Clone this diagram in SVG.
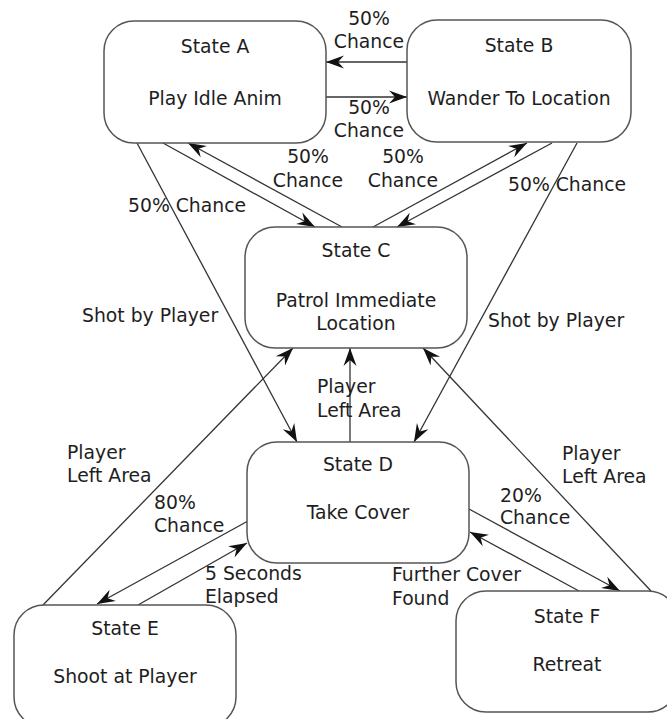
<svg xmlns="http://www.w3.org/2000/svg" width="667" height="719" viewBox="0 0 667 719">
  <style>
    .box { fill: #ffffff; stroke: #555555; stroke-width: 1.5; }
    .edge { fill: none; stroke: #333333; stroke-width: 1.3; marker-end: url(#arrow); }
    text { font-family: "DejaVu Sans", "Liberation Sans", sans-serif; font-size: 18.8px; fill: #1e1e1e; }
    .c { text-anchor: middle; }
  </style>
  <defs>
    <marker id="arrow" markerUnits="userSpaceOnUse" markerWidth="22" markerHeight="16" viewBox="-19 -8 20 16" refX="0" refY="0" orient="auto">
      <path d="M0,0 L-18,-6.5 L-12,0 L-18,6.5 Z" fill="#111111"/>
    </marker>
  </defs>
  <rect width="667" height="719" fill="#ffffff"/>

  <!-- transitions -->
  <g id="connectors">
    <line class="edge" x1="407" y1="62" x2="326" y2="62"/>
    <line class="edge" x1="326" y1="97" x2="407" y2="97"/>
    <line class="edge" x1="163" y1="143" x2="315" y2="227"/>
    <line class="edge" x1="342" y1="227" x2="188" y2="143"/>
    <line class="edge" x1="373" y1="227" x2="527" y2="143"/>
    <line class="edge" x1="552" y1="143" x2="397" y2="227"/>
    <line class="edge" x1="137" y1="143" x2="297" y2="442"/>
    <line class="edge" x1="577" y1="143" x2="414" y2="442"/>
    <line class="edge" x1="350" y1="442" x2="350" y2="348"/>
    <line class="edge" x1="43" y1="605" x2="293" y2="348"/>
    <line class="edge" x1="651" y1="591" x2="423" y2="348"/>
    <line class="edge" x1="248" y1="521" x2="97" y2="604"/>
    <line class="edge" x1="138" y1="605" x2="247" y2="543"/>
    <line class="edge" x1="469" y1="509" x2="620" y2="591"/>
    <line class="edge" x1="579" y1="591" x2="470" y2="532"/>
  </g>

  <!-- transition labels -->
  <g id="labels">
    <text class="c" x="369" y="25">50%</text>
    <text class="c" x="369" y="48">Chance</text>
    <text class="c" x="369" y="114">50%</text>
    <text class="c" x="369" y="137">Chance</text>
    <text class="c" x="308" y="163">50%</text>
    <text class="c" x="308" y="187">Chance</text>
    <text class="c" x="403" y="163">50%</text>
    <text class="c" x="403" y="187">Chance</text>
    <text x="128" y="212">50% Chance</text>
    <text x="508" y="191">50% Chance</text>
    <text x="82" y="322">Shot by Player</text>
    <text x="488" y="327">Shot by Player</text>
    <text x="317" y="393">Player</text>
    <text x="317" y="417">Left Area</text>
    <text x="67" y="459">Player</text>
    <text x="67" y="482">Left Area</text>
    <text x="562" y="460">Player</text>
    <text x="562" y="483">Left Area</text>
    <text x="154" y="509">80%</text>
    <text x="154" y="532">Chance</text>
    <text x="205" y="580">5 Seconds</text>
    <text x="205" y="603">Elapsed</text>
    <text x="500" y="502">20%</text>
    <text x="500" y="524">Chance</text>
    <text x="392" y="581">Further Cover</text>
    <text x="392" y="605">Found</text>
  </g>

  <!-- states -->
  <g id="stateA">
    <rect class="box" x="104" y="21" width="222" height="122" rx="30" ry="30"/>
    <text class="c" x="215" y="53">State A</text>
    <text class="c" x="215" y="105">Play Idle Anim</text>
  </g>
  <g id="stateB">
    <rect class="box" x="407" y="20" width="224" height="122" rx="30" ry="30"/>
    <text class="c" x="519" y="52">State B</text>
    <text class="c" x="519" y="105">Wander To Location</text>
  </g>
  <g id="stateC">
    <rect class="box" x="245" y="227" width="222" height="121" rx="30" ry="30"/>
    <text class="c" x="356" y="257">State C</text>
    <text class="c" x="356" y="307">Patrol Immediate</text>
    <text class="c" x="356" y="330">Location</text>
  </g>
  <g id="stateD">
    <rect class="box" x="247" y="442" width="222" height="121" rx="30" ry="30"/>
    <text class="c" x="358" y="471">State D</text>
    <text class="c" x="358" y="519">Take Cover</text>
  </g>
  <g id="stateE">
    <rect class="box" x="14" y="605" width="222" height="122" rx="30" ry="30"/>
    <text class="c" x="125" y="635">State E</text>
    <text class="c" x="125" y="683">Shoot at Player</text>
  </g>
  <g id="stateF">
    <rect class="box" x="456" y="591" width="222" height="121" rx="30" ry="30"/>
    <text class="c" x="567" y="623">State F</text>
    <text class="c" x="567" y="671">Retreat</text>
  </g>
</svg>
